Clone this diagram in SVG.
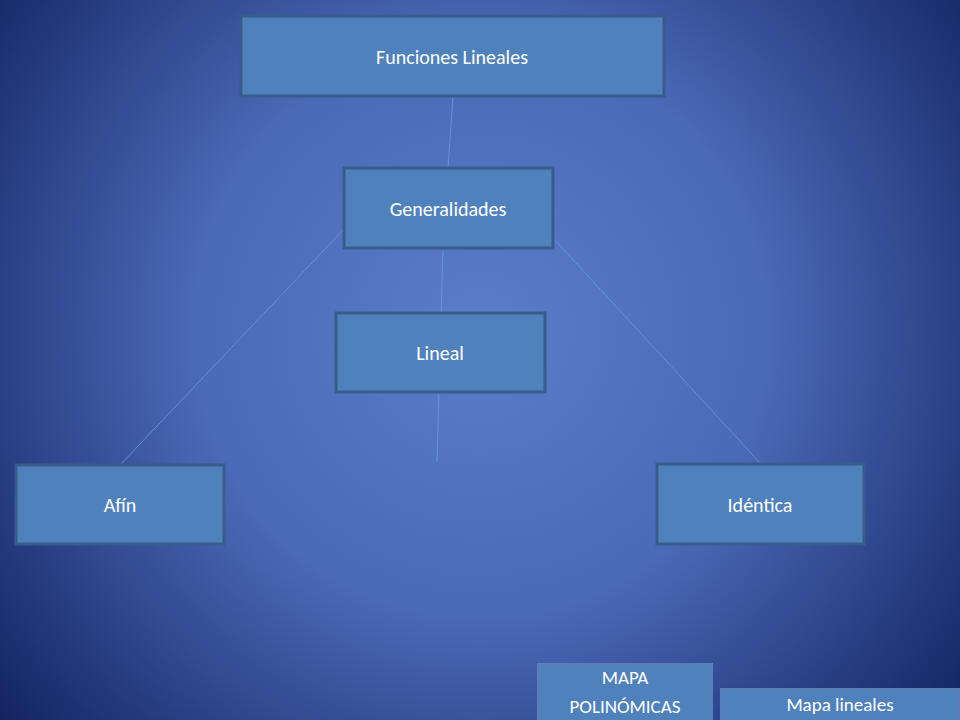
<svg xmlns="http://www.w3.org/2000/svg" width="960" height="720" viewBox="0 0 960 720">
<defs>
<radialGradient id="bg" cx="480" cy="330" r="640" gradientUnits="userSpaceOnUse">
<stop offset="0" stop-color="#5b7dc9"/>
<stop offset="0.45" stop-color="#4a69b6"/>
<stop offset="1" stop-color="#0f1f5c"/>
</radialGradient>
<style>
.n{fill:#4f81bd;stroke:#385d8a;stroke-width:3}
.s{fill:#4f81bd;stroke:#5a7fb8;stroke-width:2}
.t{font-family:Calibri,"Liberation Sans",sans-serif;fill:#fff;text-anchor:middle;dominant-baseline:central}
.c{stroke:#6a9ae0;stroke-width:1;fill:none;opacity:0.8}
</style>
</defs>
<rect width="960" height="720" fill="url(#bg)"/>
<g id="connectors">
<line class="c" x1="453" y1="96" x2="448" y2="168"/>
<line class="c" x1="345" y1="228" x2="120" y2="465"/>
<line class="c" x1="553" y1="238" x2="762" y2="465"/>
<line class="c" x1="443" y1="248" x2="437" y2="462"/>
</g>
<g id="funciones"><rect class="n" x="241" y="16" width="423" height="80"/><text class="t" x="452" y="57" font-size="20">Funciones Lineales</text></g>
<g id="generalidades"><rect class="n" x="344" y="168" width="209" height="80"/><text class="t" x="448" y="209" font-size="20">Generalidades</text></g>
<g id="lineal"><rect class="n" x="336" y="313" width="209" height="79"/><text class="t" x="440" y="353" font-size="20">Lineal</text></g>
<g id="afin"><rect class="n" x="16" y="465" width="208" height="79"/><text class="t" x="120" y="505" font-size="20">Afín</text></g>
<g id="identica"><rect class="n" x="657" y="464" width="207" height="80"/><text class="t" x="760" y="505" font-size="20">Idéntica</text></g>
<g id="mapa-polinomicas"><rect class="s" x="538" y="664" width="174" height="60"/><text class="t" x="625" y="677" font-size="19">MAPA</text><text class="t" x="625" y="706" font-size="19">POLINÓMICAS</text></g>
<g id="mapa-lineales"><rect class="s" x="721" y="689" width="238" height="35"/><text class="t" x="840" y="704" font-size="19">Mapa lineales</text></g>
</svg>
